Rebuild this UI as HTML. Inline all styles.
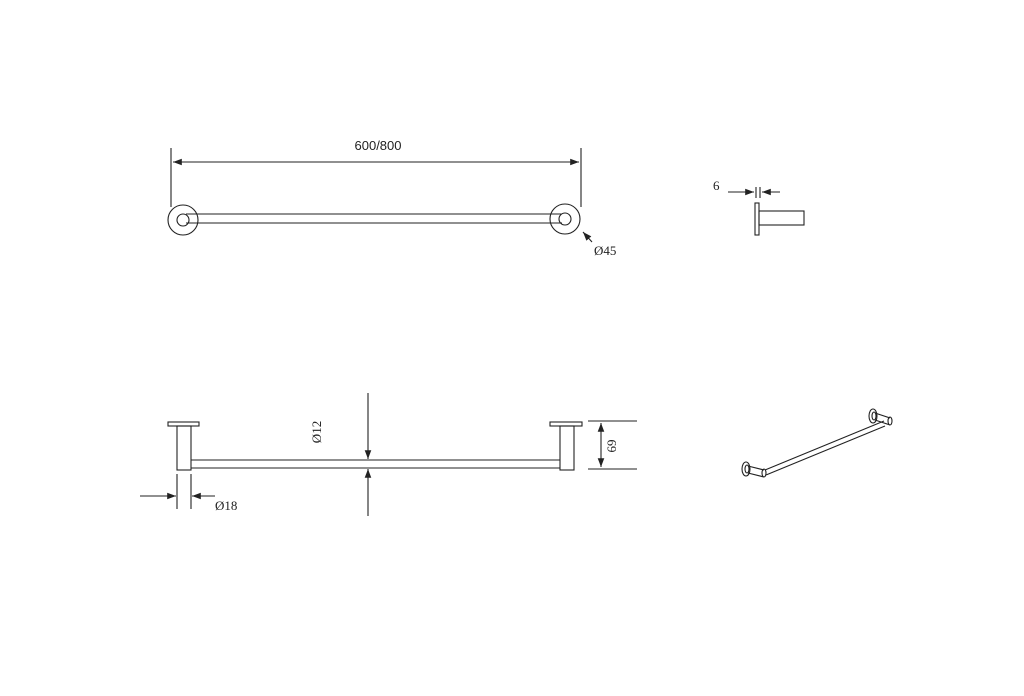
<!DOCTYPE html>
<html><head><style>body{margin:0;background:#fff}</style></head><body>
<svg width="1024" height="691" viewBox="0 0 1024 691" xmlns="http://www.w3.org/2000/svg" font-family="Liberation Serif, serif" fill="none" stroke="#222" stroke-width="1.1">
<defs><marker id="a" markerWidth="8" markerHeight="6" refX="8" refY="3" orient="auto"><path d="M0,0 L8,3 L0,6 z" fill="#222" stroke="none"/></marker></defs>
<!-- top view -->
<line x1="171" y1="148" x2="171" y2="207"/><line x1="581" y1="148" x2="581" y2="207"/>
<line x1="376" y1="162" x2="579" y2="162" marker-end="url(#a)"/>
<line x1="376" y1="162" x2="173" y2="162" marker-end="url(#a)"/>
<text x="378" y="150" font-family="Liberation Sans, sans-serif" font-size="13" fill="#222" stroke="none" text-anchor="middle">600/800</text>
<circle cx="183" cy="220" r="15"/><circle cx="183" cy="220" r="6"/>
<circle cx="565" cy="219" r="15"/><circle cx="565" cy="219" r="6"/>
<line x1="186" y1="214" x2="562" y2="214"/><line x1="186" y1="223" x2="562" y2="223"/>
<line x1="592" y1="242" x2="583" y2="232" marker-end="url(#a)"/>
<text x="594" y="255" font-size="13" fill="#222" stroke="none">Ø45</text>
<!-- small side -->
<text x="713" y="190" font-size="13" fill="#222" stroke="none">6</text>
<line x1="728" y1="192" x2="754" y2="192" marker-end="url(#a)"/>
<line x1="780" y1="192" x2="762" y2="192" marker-end="url(#a)"/>
<line x1="756" y1="187" x2="756" y2="198"/><line x1="760" y1="187" x2="760" y2="198"/>
<rect x="755" y="203" width="4" height="32"/>
<rect x="759" y="211" width="45" height="14"/>
<!-- front view -->
<rect x="168" y="422" width="31" height="4"/>
<rect x="177" y="426" width="14" height="44"/>
<rect x="550" y="422" width="32" height="4"/>
<rect x="560" y="426" width="14" height="44"/>
<line x1="191" y1="460" x2="560" y2="460"/><line x1="191" y1="468" x2="560" y2="468"/>
<line x1="368" y1="393" x2="368" y2="459" marker-end="url(#a)"/>
<line x1="368" y1="516" x2="368" y2="469" marker-end="url(#a)"/>
<text transform="translate(321,432) rotate(-90)" font-size="13" fill="#222" stroke="none" text-anchor="middle">Ø12</text>
<line x1="588" y1="421" x2="637" y2="421"/><line x1="588" y1="469" x2="637" y2="469"/>
<line x1="601" y1="445" x2="601" y2="423" marker-end="url(#a)"/>
<line x1="601" y1="445" x2="601" y2="467" marker-end="url(#a)"/>
<text transform="translate(616,446) rotate(-90)" font-size="13" fill="#222" stroke="none" text-anchor="middle">69</text>
<line x1="177" y1="474" x2="177" y2="509"/><line x1="191" y1="474" x2="191" y2="509"/>
<line x1="140" y1="496" x2="176" y2="496" marker-end="url(#a)"/>
<line x1="215" y1="496" x2="192" y2="496" marker-end="url(#a)"/>
<text x="215" y="510" font-size="13" fill="#222" stroke="none">Ø18</text>
<!-- iso -->
<ellipse cx="746" cy="469" rx="4" ry="7"/><ellipse cx="747" cy="469" rx="2" ry="4"/>
<path d="M748,466 L764,470 M748,473 L764,477"/><ellipse cx="764" cy="473" rx="2" ry="4"/>
<path d="M765,470 L884,421 M766,475 L885,426"/>
<ellipse cx="873" cy="416" rx="4" ry="7"/><ellipse cx="874" cy="416" rx="2" ry="4"/>
<path d="M875,413 L890,418 M875,420 L890,425"/><ellipse cx="890" cy="421" rx="2" ry="4"/>
</svg>
</body></html>
